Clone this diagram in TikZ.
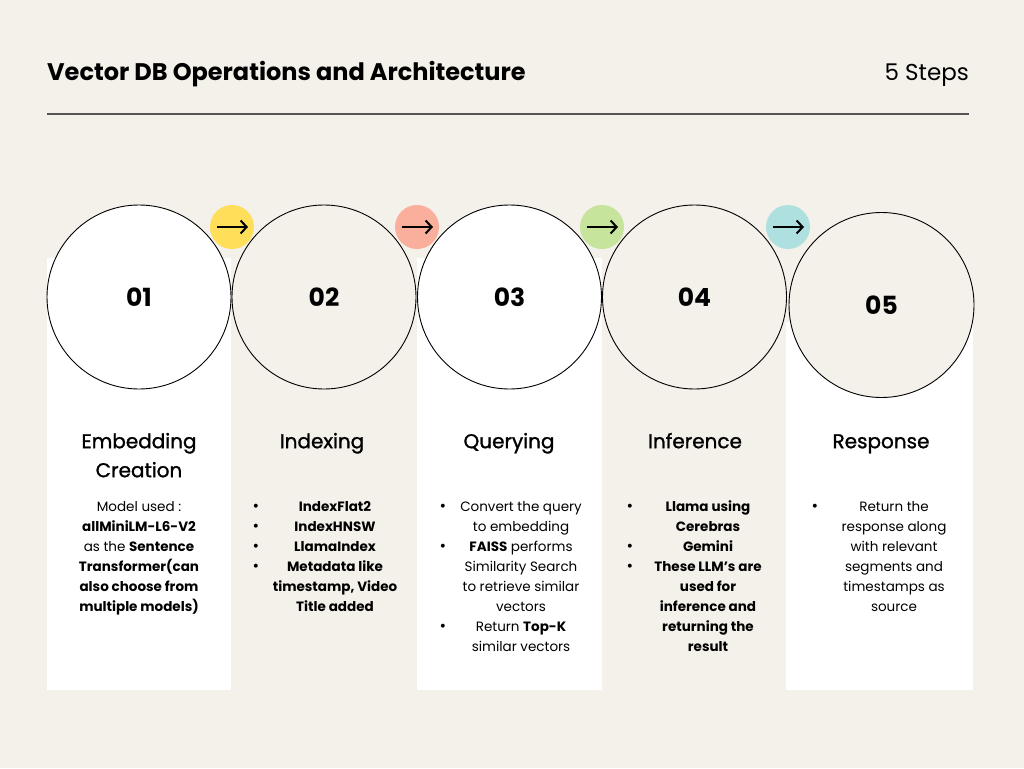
\documentclass[tikz,border=0pt]{standalone}
\usepackage{fontspec}
\setmainfont{Poppins}
\newfontfamily\medfont[FakeBold=1.2]{Poppins}
\usetikzlibrary{arrows.meta,calc}
\definecolor{bg}{HTML}{F4F0EA}
\definecolor{cyel}{HTML}{FFDE59}
\definecolor{csal}{HTML}{F9AF9C}
\definecolor{cgrn}{HTML}{C6E49B}
\definecolor{ccyn}{HTML}{AEE0E0}
\definecolor{rulec}{HTML}{555555}
\newcommand{\fstrut}[1]{\rule{0pt}{#1}}
\begin{document}
\begin{tikzpicture}[x=1pt,y=-1pt,
  bigc/.style={circle, draw=black, line width=0.9pt, minimum size=184pt, inner sep=0pt,
    font=\bfseries\fontsize{25}{30}\selectfont},
  dotc/.style={circle, minimum size=44pt, inner sep=0pt},
  arr/.style={line width=2pt, -{Straight Barb[length=6pt,width=13pt]}},
  head/.style={anchor=north, align=center, inner sep=0pt, font=\medfont\fontsize{20}{29}\selectfont},
  body/.style={anchor=north, align=center, inner sep=0pt, font=\fontsize{13.5}{20}\selectfont},
  bul/.style={anchor=base, inner sep=0pt, font=\fontsize{16}{20}\selectfont}]
\fill[bg] (0,0) rectangle (1024,768);
\useasboundingbox (0,0) rectangle (1024,768);

% title
\node[anchor=base west, inner sep=0pt, font=\bfseries\fontsize{24}{28}\selectfont] (title) at (47,80) {Vector DB Operations and Architecture};
\node[anchor=base east, inner sep=0pt, font=\fontsize{23}{26}\selectfont] (steps) at (969,80) {5 Steps};
\coordinate (rl) at (47,114);
\coordinate (rr) at (969,114);
\draw[rulec, line width=1.2pt] (rl) -- (rr);

% white columns
\fill[white] (47,258) rectangle (231,690);
\fill[white] (417,258) rectangle (602,690);
\fill[white] (786,322) rectangle (973,690);

% big circles
\node[bigc, fill=white] (c1) at (139,297) {01};
\node[bigc, fill=bg] (c2) at (324,297) {02};
\node[bigc, fill=white] (c3) at (509.5,297) {03};
\node[bigc, fill=bg] (c4) at (694.5,297) {04};
\node[bigc, fill=bg, minimum size=185pt] (c5) at (881.5,305) {05};

% arrow dots
\node[dotc, fill=cyel] (a1) at (232,227) {};
\node[dotc, fill=csal] (a2) at (417,227) {};
\node[dotc, fill=cgrn] (a3) at (602,227) {};
\node[dotc, fill=ccyn] (a4) at (788,227) {};
\foreach \a in {a1,a2,a3,a4}{
  \draw[arr] ($(\a.center)+(-15,0)$) -- ($(\a.center)+(16,0)$);
}

% headings (first baseline at y=448)
\node[head] (h1) at (139,431) {\fstrut{17pt}Embedding\\Creation};
\node[head] (h2) at (322,431) {\fstrut{17pt}Indexing};
\node[head] (h3) at (509,431) {\fstrut{17pt}Querying};
\node[head] (h4) at (695,431) {\fstrut{17pt}Inference};
\node[head] (h5) at (881,431) {\fstrut{17pt}Response};

% bodies (first baseline at y=511)
\node[body] (t1) at (139,499) {\fstrut{12pt}Model used :\\\textbf{allMiniLM-L6-V2}\\as the \textbf{Sentence}\\\textbf{Transformer(can}\\\textbf{also choose from}\\\textbf{multiple models)}};
\node[body, font=\bfseries\fontsize{13.5}{20}\selectfont] (t2) at (335,499) {\fstrut{12pt}IndexFlat2\\IndexHNSW\\LlamaIndex\\Metadata like\\timestamp, Video\\Title added};
\node[body] (t3) at (521,499) {\fstrut{12pt}Convert the query\\to embedding\\\textbf{FAISS} performs\\Similarity Search\\to retrieve similar\\vectors\\Return \textbf{Top-K}\\similar vectors};
\node[body, font=\bfseries\fontsize{13.5}{20}\selectfont] (t4) at (708,499) {\fstrut{12pt}Llama using\\Cerebras\\Gemini\\These LLM’s are\\used for\\inference and\\returning the\\result};
\node[body] (t5) at (894,499) {\fstrut{12pt}Return the\\response along\\with relevant\\segments and\\timestamps as\\source};

% bullets
\foreach \y [count=\i] in {511,531,551,571}{\node[bul] (b2\i) at (256,\y) {•};}
\foreach \y [count=\i] in {511,551,631}{\node[bul] (b3\i) at (443,\y) {•};}
\foreach \y [count=\i] in {511,551,571}{\node[bul] (b4\i) at (630,\y) {•};}
\node[bul] (b51) at (815,511) {•};
\end{tikzpicture}
\end{document}
